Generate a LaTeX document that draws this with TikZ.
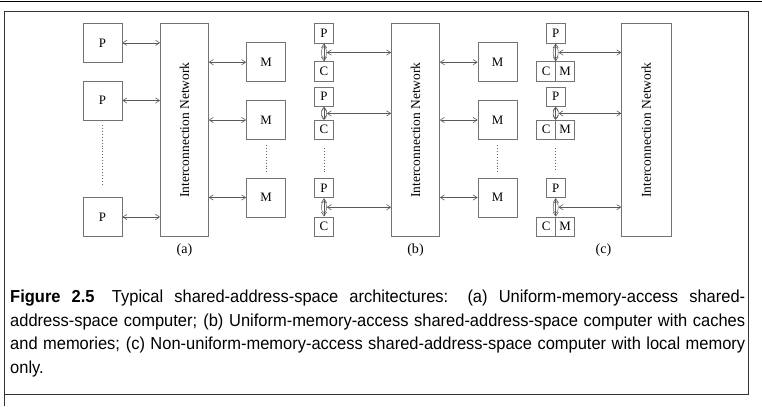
\documentclass[tikz,border=0pt]{standalone}
\usepackage{fontspec}
\setmainfont{Liberation Serif}
\newfontfamily\capfont[FakeStretch=0.95]{Liberation Sans}
\usetikzlibrary{arrows.meta,positioning,shapes.geometric}

\tikzset{
  boxline/.style={draw=black!55, line width=0.6pt},
  bigbox/.style={boxline, minimum width=39*0.03cm, minimum height=39*0.03cm, inner sep=0pt, font=\fontsize{11}{13}\selectfont},
  smallbox/.style={boxline, minimum width=19*0.03cm, minimum height=19.5*0.03cm, inner sep=0pt, font=\fontsize{11}{13}\selectfont},
  netbox/.style={boxline, minimum width=48*0.03cm, minimum height=213.4*0.03cm, inner sep=0pt},
  nettext/.style={rotate=90, inner sep=0pt, font=\fontsize{11.5}{13}\selectfont},
  joint/.style={ellipse, draw=black!60, line width=0.45pt, minimum width=5*0.03cm, minimum height=12*0.03cm, inner sep=0pt},
  link/.style={draw=black!65, line width=0.5pt, {Straight Barb[length=3.5pt,width=4.5pt]}-{Straight Barb[length=3.5pt,width=4.5pt]}},
  dots/.style={draw=black!60, dotted, line width=0.5pt},
  sublabel/.style={inner sep=0pt, font=\fontsize{12}{14}\selectfont},
  caption/.style={anchor=north west, inner sep=0pt, text width=735*0.03cm, align=justify, font=\capfont\fontsize{14.8}{20}\selectfont},
}

\begin{document}
\begin{tikzpicture}[x=0.03cm, y=-0.03cm]
\useasboundingbox (0,0) rectangle (762,406);
\draw[line width=1.5pt] (0,1.5) -- (762,1.5);
\draw[black!80, line width=0.8pt] (4,406) -- (4,11) -- (748,11) -- (748,394) -- (4,394);

% (a)
\node[bigbox] (pa1) at (102.5,42.8) {P};
\node[bigbox] (pa2) at (102.5,100.5) {P};
\node[bigbox] (pa3) at (102.5,217) {P};
\node[netbox] (neta) at (184.4,130) {};
\node[nettext] (neta-t) at (neta.center) {Interconnection Network};
\node[bigbox] (ma1) at (266,62.2) {M};
\node[bigbox] (ma2) at (266,120) {M};
\node[bigbox] (ma3) at (266,197.5) {M};
\draw[link] (pa1.east) -- (pa1.east -| neta.west);
\draw[link] (pa2.east) -- (pa2.east -| neta.west);
\draw[link] (pa3.east) -- (pa3.east -| neta.west);
\draw[link] (ma1.west -| neta.east) -- (ma1.west);
\draw[link] (ma2.west -| neta.east) -- (ma2.west);
\draw[link] (ma3.west -| neta.east) -- (ma3.west);
\draw[dots] (102.5,125) -- (102.5,185);
\draw[dots] (266,145) -- (266,173);
\node[sublabel] (lab-a) at (184.4,250) {(a)};

% (b)
\node[smallbox] (pb1) at (324,33.3) {P};
\node[smallbox] (cb1) at (324,71.5) {C};
\node[smallbox] (pb2) at (324,96.7) {P};
\node[smallbox] (cb2) at (324,129.7) {C};
\node[smallbox] (pb3) at (324,188) {P};
\node[smallbox] (cb3) at (324,226.7) {C};
\node[joint] (jb1) at (324,52.5) {};
\node[joint] (jb2) at (324,113.4) {};
\node[joint] (jb3) at (324,207.2) {};
\node[netbox] (netb) at (415.5,130) {};
\node[nettext] (netb-t) at (netb.center) {Interconnection Network};
\node[bigbox] (mb1) at (497.5,62.2) {M};
\node[bigbox] (mb2) at (497.5,120) {M};
\node[bigbox] (mb3) at (497.5,197.5) {M};
\draw[link] (pb1.south) -- (cb1.north);
\draw[link] (pb2.south) -- (cb2.north);
\draw[link] (pb3.south) -- (cb3.north);
\draw[link] (jb1.east) -- (jb1.east -| netb.west);
\draw[link] (jb2.east) -- (jb2.east -| netb.west);
\draw[link] (jb3.east) -- (jb3.east -| netb.west);
\draw[link] (mb1.west -| netb.east) -- (mb1.west);
\draw[link] (mb2.west -| netb.east) -- (mb2.west);
\draw[link] (mb3.west -| netb.east) -- (mb3.west);
\draw[dots] (324,148) -- (324,172);
\draw[dots] (497.5,145) -- (497.5,173);
\node[sublabel] (lab-b) at (415.5,250) {(b)};

% (c)
\node[smallbox] (pc1) at (555.7,33.3) {P};
\node[smallbox] (cc1) at (546.2,71.5) {C};
\node[smallbox] (mc1) at (565.2,71.5) {M};
\node[smallbox] (pc2) at (555.7,96.7) {P};
\node[smallbox] (cc2) at (546.2,129.7) {C};
\node[smallbox] (mc2) at (565.2,129.7) {M};
\node[smallbox] (pc3) at (555.7,188) {P};
\node[smallbox] (cc3) at (546.2,226.7) {C};
\node[smallbox] (mc3) at (565.2,226.7) {M};
\node[joint] (jc1) at (555.7,52.5) {};
\node[joint] (jc2) at (555.7,113.4) {};
\node[joint] (jc3) at (555.7,207.2) {};
\node[netbox, minimum width=49.3*0.03cm] (netc) at (646.3,130) {};
\node[nettext] (netc-t) at (netc.center) {Interconnection Network};
\draw[link] (pc1.south) -- (pc1.south |- cc1.north);
\draw[link] (pc2.south) -- (pc2.south |- cc2.north);
\draw[link] (pc3.south) -- (pc3.south |- cc3.north);
\draw[link] (jc1.east) -- (jc1.east -| netc.west);
\draw[link] (jc2.east) -- (jc2.east -| netc.west);
\draw[link] (jc3.east) -- (jc3.east -| netc.west);
\draw[dots] (555.7,148) -- (555.7,170);
\node[sublabel] (lab-c) at (603.5,250) {(c)};

\node[caption] (cap) at (10,290) {\textbf{Figure 2.5}\quad Typical shared-address-space architectures: (a) Uniform-memory-access shared-\linebreak address-space computer; (b) Uniform-memory-access shared-address-space computer with caches\linebreak and memories; (c) Non-uniform-memory-access shared-address-space computer with local memory\linebreak only.};
\end{tikzpicture}
\end{document}
